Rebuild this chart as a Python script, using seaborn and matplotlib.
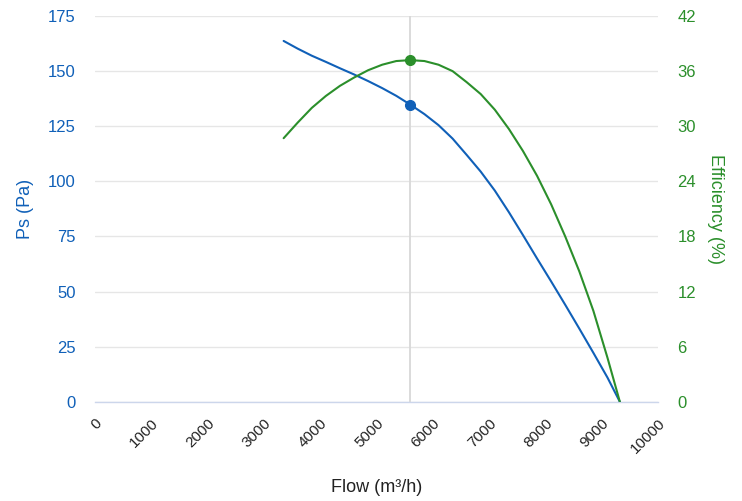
import pandas as pd
import seaborn as sns
import matplotlib.pyplot as plt

# values
ps_flow = [3350, 3600, 3850, 4100, 4350, 4600, 4850, 5100, 5350, 5600, 5850, 6100, 6350,
           6600, 6850, 7100, 7350, 7600, 7850, 8100, 8350, 8600, 8850, 9100, 9320]
ps_vals = [163.7, 160.2, 157.0, 154.2, 151.3, 148.5, 145.5, 142.3, 138.8, 134.8, 130.5, 125.5, 119.4,
           112.0, 104.4, 95.8, 86.0, 75.6, 65.0, 54.6, 44.0, 33.2, 22.2, 11.0, 0.0]
eff_flow = [3350, 3600, 3850, 4100, 4350, 4600, 4850, 5100, 5350, 5600, 5850, 6100, 6350,
            6600, 6850, 7100, 7350, 7600, 7850, 8100, 8350, 8600, 8850, 9100, 9320]
eff_vals = [28.7, 30.4, 32.0, 33.3, 34.4, 35.3, 36.1, 36.7, 37.1, 37.2, 37.1, 36.7, 36.0,
            34.8, 33.5, 31.8, 29.7, 27.3, 24.6, 21.5, 18.0, 14.2, 9.9, 4.8, 0.0]
duty_flow = 5600
duty_ps = 134.8
duty_eff = 37.2

x_ticks = list(range(0, 10001, 1000))
ps_ticks = list(range(0, 176, 25))
eff_ticks = list(range(0, 43, 6))

blue = '#1060b8'
green = '#2b8f2b'
grid_c = '#e6e6e6'
axis_c = '#ccd6eb'

sns.set_style('white')
plt.rcParams['font.family'] = ['Liberation Sans', 'DejaVu Sans']

ps_df = pd.DataFrame({'flow': ps_flow, 'ps': ps_vals})
eff_df = pd.DataFrame({'flow': eff_flow, 'eff': eff_vals})

fig, ax = plt.subplots(figsize=(7.42, 5.01), dpi=100)
fig.subplots_adjust(left=0.128, right=0.887, top=0.968, bottom=0.198)
ax2 = ax.twinx()

ax.set_xlim(0, 10000)
ax.set_ylim(0, 175)
ax2.set_ylim(0, 42)

ax.set_yticks(ps_ticks)
ax2.set_yticks(eff_ticks)
ax.set_xticks(x_ticks)
ax.grid(axis='y', color=grid_c, linewidth=1)
ax.set_axisbelow(True)

ax.axvline(duty_flow, color='#d8d8d8', linewidth=1.3, zorder=1)

sns.lineplot(data=ps_df, x='flow', y='ps', ax=ax, color=blue, linewidth=1.5, zorder=3)
sns.lineplot(data=eff_df, x='flow', y='eff', ax=ax2, color=green, linewidth=1.5, zorder=3)
ax.plot([duty_flow], [duty_ps], 'o', color=blue, markersize=7, zorder=4)
ax2.plot([duty_flow], [duty_eff], 'o', color=green, markersize=7, zorder=4)

for a in (ax, ax2):
    for s in ('top', 'right', 'left'):
        a.spines[s].set_visible(False)
    a.spines['bottom'].set_color(axis_c)
    a.spines['bottom'].set_linewidth(1)
ax2.spines['bottom'].set_visible(False)

ax.tick_params(axis='y', length=0, pad=14, labelsize=12, labelcolor=blue)
ax2.tick_params(axis='y', length=0, pad=14, labelsize=12, labelcolor=green)
ax.tick_params(axis='x', length=7.5, width=1, color=axis_c, labelsize=11,
               labelcolor='#222222', pad=3)
ax.set_xticklabels([str(t) for t in x_ticks], rotation=45, ha='right',
                   rotation_mode='anchor')

ax.set_xlabel('Flow (m³/h)', fontsize=13, color='#222222', labelpad=16)
ax.set_ylabel('Ps (Pa)', fontsize=13, color=blue, labelpad=10)
ax2.set_ylabel('Efficiency (%)', fontsize=13, color=green, rotation=270, labelpad=20)

fig.savefig('out.png', dpi=100)
